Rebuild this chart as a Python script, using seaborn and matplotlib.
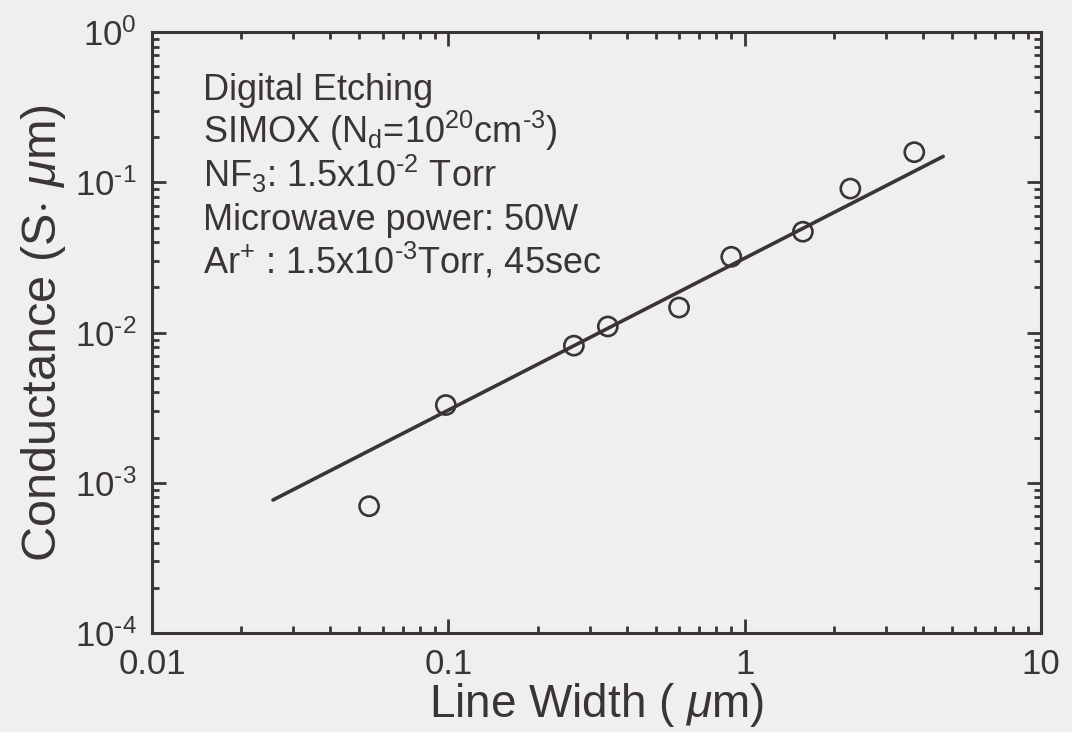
import numpy as np
import pandas as pd
import matplotlib
matplotlib.use("Agg")
import matplotlib.pyplot as plt
import seaborn as sns
from matplotlib.ticker import LogLocator, FixedLocator, FixedFormatter, NullFormatter

# ---- data ----
line_width = [0.054, 0.098, 0.265, 0.345, 0.60, 0.90, 1.57, 2.27, 3.73]      # µm
conductance = [7.0e-4, 3.3e-3, 8.2e-3, 1.1e-2, 1.47e-2, 3.2e-2, 4.7e-2, 9.1e-2, 0.159]  # S·µm
fit_width = [0.0256, 4.67]
fit_conductance = [7.7e-4, 0.149]
x_ticks = [0.01, 0.1, 1, 10]
x_ticklabels = ["0.01", "0.1", "1", "10"]
y_ticks = [1e-4, 1e-3, 1e-2, 1e-1, 1e0]
y_ticklabels = [r"10$^{\text{-4}}$", r"10$^{\text{-3}}$", r"10$^{\text{-2}}$",
                r"10$^{\text{-1}}$", r"10$^{\text{0}}$"]
notes = [
    "Digital Etching",
    r"SIMOX (N$_{\text{d}}$=10$^{\text{20}}$cm$^{\text{-3}}$)",
    r"NF$_{\text{3}}$: 1.5x10$^{\text{-2}}$ Torr",
    "Microwave power: 50W",
    r"Ar$^{\text{+}}$ : 1.5x10$^{\text{-3}}$Torr, 45sec",
]

ink = "#3a3436"
bg = "#efefed"

sns.set_theme(style="ticks")
plt.rcParams.update({
    "font.family": ["Liberation Sans", "DejaVu Sans"],
    "mathtext.fontset": "custom",
    "mathtext.rm": "Liberation Sans",
    "mathtext.it": "Liberation Sans:italic",
    "mathtext.bf": "Liberation Sans:bold",
    "text.color": ink,
    "axes.labelcolor": ink,
    "xtick.color": ink,
    "ytick.color": ink,
    "axes.edgecolor": ink,
})

fig = plt.figure(figsize=(10.72, 7.32), dpi=100, facecolor=bg)
ax = fig.add_axes([0.1418, 0.135, 0.8295, 0.821])
ax.set_facecolor(bg)

pts = pd.DataFrame({"w": line_width, "g": conductance})
fit = pd.DataFrame({"w": fit_width, "g": fit_conductance})

sns.lineplot(data=fit, x="w", y="g", ax=ax, color=ink, linewidth=2.6, zorder=2)
sns.scatterplot(data=pts, x="w", y="g", ax=ax, marker="o", s=190,
                facecolor="none", edgecolor=ink, linewidth=1.9, zorder=3)

ax.set_xscale("log")
ax.set_yscale("log")
ax.set_xlim(0.01, 10)
ax.set_ylim(1e-4, 1)

ax.xaxis.set_major_locator(FixedLocator(x_ticks))
ax.xaxis.set_major_formatter(FixedFormatter(x_ticklabels))
ax.yaxis.set_major_locator(FixedLocator(y_ticks))
ax.yaxis.set_major_formatter(FixedFormatter(y_ticklabels))
ax.xaxis.set_minor_locator(LogLocator(base=10, subs=np.arange(2, 10)))
ax.yaxis.set_minor_locator(LogLocator(base=10, subs=np.arange(2, 10)))
ax.xaxis.set_minor_formatter(NullFormatter())
ax.yaxis.set_minor_formatter(NullFormatter())

ax.tick_params(which="both", direction="in", top=True, right=True, width=2.0)
ax.tick_params(which="major", length=10, labelsize=25, pad=11)
ax.tick_params(which="minor", length=5)
for s in ax.spines.values():
    s.set_linewidth(2.2)
    s.set_color(ink)

ax.set_xlabel(r"Line Width ( $\mu$m)", fontsize=33, labelpad=0)
ax.set_ylabel(r"Conductance (S$\cdot$ $\mu$m)", fontsize=35, labelpad=5)

y0 = 0.887
dy = 0.072
for i, t in enumerate(notes):
    ax.text(0.057, y0 - i * dy, t, transform=ax.transAxes, fontsize=26,
            color=ink, va="baseline", ha="left")

fig.savefig("out.png", dpi=100, facecolor=bg)
